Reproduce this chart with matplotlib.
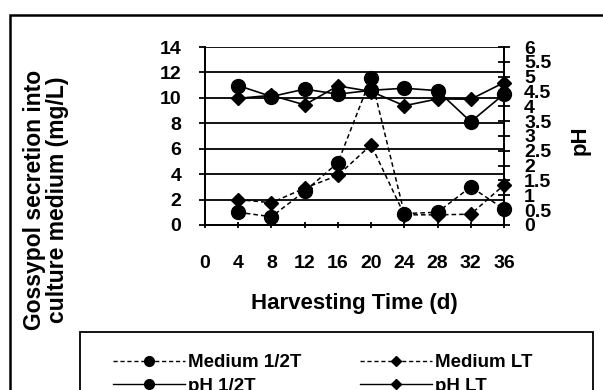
import matplotlib
matplotlib.use("Agg")
import matplotlib.pyplot as plt
from matplotlib.lines import Line2D
from matplotlib.patches import Rectangle
import numpy as np

plt.rcParams['font.family'] = ['Liberation Sans', 'DejaVu Sans']
plt.rcParams['font.weight'] = 'bold'

days = [4, 8, 12, 16, 20, 24, 28, 32, 36]
medium_half = [1.0, 0.65, 2.65, 4.9, 11.6, 0.9, 1.0, 3.0, 1.25]
medium_lt = [2.0, 1.75, 2.9, 3.9, 6.3, 0.8, 0.8, 0.85, 3.15]
ph_half = [4.70, 4.33, 4.58, 4.41, 4.54, 4.61, 4.53, 3.48, 4.41]
ph_lt = [4.27, 4.37, 4.05, 4.69, 4.50, 4.02, 4.25, 4.24, 4.80]

x_ticks = [0, 4, 8, 12, 16, 20, 24, 28, 32, 36]
left_ticks = [0, 2, 4, 6, 8, 10, 12, 14]
right_ticks = np.arange(0, 6.01, 0.5)

W, H = 603, 390
fig = plt.figure(figsize=(W / 100, H / 100), dpi=100)

# plot area in pixels: x 205..504, y 47..225
ax = fig.add_axes([205 / W, 1 - 225 / H, (504 - 205) / W, (225 - 47) / H])
ax2 = ax.twinx()

dash = (0, (3, 2))
ax.plot(days, medium_half, color='black', lw=1.1, ls=dash, marker='o',
        ms=10, clip_on=False, zorder=3)
ax.plot(days, medium_lt, color='black', lw=1.1, ls=dash, marker='D',
        ms=7.5, clip_on=False, zorder=3)
ax2.plot(days, ph_half, color='black', lw=1.2, marker='o', ms=10,
         clip_on=False, zorder=3)
ax2.plot(days, ph_lt, color='black', lw=1.2, marker='D', ms=7.5,
         clip_on=False, zorder=3)

ax.set_xlim(0, 36)
ax.set_ylim(0, 14)
ax2.set_ylim(0, 6)
ax.set_xticks(x_ticks)
ax.set_yticks(left_ticks)
ax2.set_yticks(right_ticks)
ax2.set_yticklabels(['{:g}'.format(v) for v in right_ticks])

ax.grid(axis='y', color='black', lw=1.3)
ax.set_axisbelow(True)
for a in (ax, ax2):
    for s in a.spines.values():
        s.set_linewidth(1.3)
ax.spines['top'].set_visible(False)
ax2.spines['top'].set_visible(False)

ax.tick_params(axis='x', direction='inout', length=5, width=1.3,
               pad=19, labelsize=14)
ax.tick_params(axis='y', direction='out', length=4, width=1.3,
               pad=13, labelsize=14)
ax2.tick_params(axis='y', direction='inout', length=9, width=1.3,
                pad=10, labelsize=14)

ax.set_xlabel('Harvesting Time (d)', fontsize=16, fontweight='bold',
              labelpad=15)
fig.text(46 / W, 1 - 200 / H, 'Gossypol secretion into\nculture medium (mg/L)',
         rotation=90, ha='center', va='center', fontsize=16.5,
         fontweight='bold', linespacing=1.0)
fig.text(580 / W, 1 - 140 / H, 'pH', rotation=90, ha='center', va='center',
         fontsize=16, fontweight='bold')

# outer chart border and legend box
fig.patches.append(Rectangle((10 / W, -0.1), 1.2, 1.1 - 15 / H,
                             transform=fig.transFigure, fill=False,
                             lw=1.8, ec='black'))
fig.patches.append(Rectangle((80 / W, -0.1), (593 - 80) / W, 0.1 + 1 - 332 / H,
                             transform=fig.transFigure, fill=False,
                             lw=1.3, ec='black'))

h1 = [Line2D([], [], color='black', lw=1.0, ls=dash, marker='o', ms=7),
      Line2D([], [], color='black', lw=1.0, marker='o', ms=7)]
h2 = [Line2D([], [], color='black', lw=1.0, ls=dash, marker='D', ms=5),
      Line2D([], [], color='black', lw=1.0, marker='D', ms=5)]
leg_kw = dict(frameon=False, handlelength=3.85, handletextpad=0.15,
              labelspacing=0.35, borderpad=0, borderaxespad=0,
              loc='upper left', prop={'weight': 'bold', 'size': 13.5})
fig.legend(h1, ['Medium 1/2T', 'pH 1/2T'],
           bbox_to_anchor=(113 / W, 1 - 354 / H), **leg_kw)
fig.legend(h2, ['Medium LT', 'pH LT'],
           bbox_to_anchor=(360 / W, 1 - 354 / H), **leg_kw)

fig.savefig('out.png', dpi=100)
